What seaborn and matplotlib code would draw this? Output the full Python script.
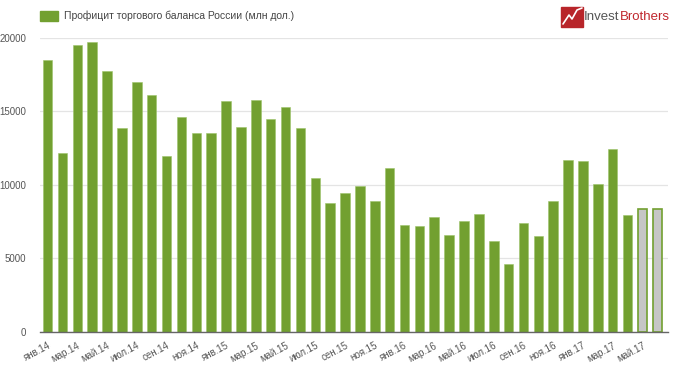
import numpy as np
import pandas as pd
import seaborn as sns
import matplotlib.pyplot as plt
from matplotlib.patches import Rectangle

# профицит торгового баланса, млн долл., янв.14 - июн.17
months = ["янв", "фев", "мар", "апр", "май", "июн",
          "июл", "авг", "сен", "окт", "ноя", "дек"]
years = ["14", "15", "16", "17"]
values = [18500, 12200, 19550, 19750, 17750, 13850, 17000, 16100, 11950, 14650, 13550, 13550,
          15700, 13950, 15800, 14500, 15300, 13850, 10500, 8750, 9450, 9950, 8900, 11150,
          7250, 7200, 7800, 6600, 7550, 8000, 6200, 4600, 7400, 6500, 8900, 11700,
          11650, 10100, 12450, 7950, 8350, 8350]
kind = ["факт"] * 40 + ["оценка"] * 2

labels = [f"{months[i % 12]}.{years[i // 12]}" for i in range(len(values))]
df = pd.DataFrame({"month": labels, "value": values, "kind": kind})

green = "#72a030"
grey = "#c6c6c6"

sns.set_theme(style="white")
plt.rcParams["font.family"] = ["Liberation Sans", "DejaVu Sans"]

fig = plt.figure(figsize=(6.8, 3.72), dpi=100)
ax = fig.add_axes([0.059, 0.1075, 0.923, 0.7905])

sns.barplot(data=df, x="month", y="value", hue="kind", dodge=False,
            palette={"факт": green, "оценка": grey}, width=0.64,
            legend=False, ax=ax, saturation=1)
for p in ax.patches:
    if p.get_facecolor()[:3] == plt.matplotlib.colors.to_rgb(grey):
        p.set_edgecolor(green)
        p.set_linewidth(1.2)
    else:
        p.set_edgecolor("#9cc46a")
        p.set_linewidth(0.4)

ax.set_ylim(0, 20000)
ax.set_xlim(-0.5, len(values) - 0.3)
ax.set_yticks([0, 5000, 10000, 15000, 20000])
ax.yaxis.grid(True, color="#e4e4e4", linewidth=0.9)
ax.set_axisbelow(True)
for s in ["top", "right", "left"]:
    ax.spines[s].set_visible(False)
ax.spines["bottom"].set_color("#666666")
ax.spines["bottom"].set_linewidth(1.0)

ticks = list(range(0, len(values), 2))
ax.set_xticks(ticks)
ax.set_xticklabels([labels[i] for i in ticks], rotation=28, ha="right",
                   rotation_mode="anchor", fontsize=7, color="#555555")
ax.tick_params(axis="x", length=0, pad=6)
ax.tick_params(axis="y", length=0, pad=10, labelsize=7, labelcolor="#555555")
ax.set_xlabel("")
ax.set_ylabel("")

# легенда
fig.patches.append(Rectangle((40 / 680, 1 - 21 / 372), 18 / 680, 10 / 372,
                             transform=fig.transFigure, color=green))
fig.text(64 / 680, 1 - 16 / 372, "Профицит торгового баланса России (млн дол.)",
         fontsize=7.5, color="#444444", va="center")

# логотип
fig.patches.append(Rectangle((561 / 680, 1 - 27 / 372), 22 / 680, 20 / 372,
                             transform=fig.transFigure, color="#b8252a"))
fig.lines.append(plt.Line2D(np.array([563, 569, 572, 577, 582]) / 680,
                            1 - np.array([24, 15, 19, 10, 8]) / 372,
                            transform=fig.transFigure, color="white", lw=1.2))
t1 = fig.text(584 / 680, 1 - 17 / 372, "Invest", fontsize=9.5, color="#555555", va="center")
fig.canvas.draw()
bb = t1.get_window_extent()
fig.text(bb.x1 / 680 + 0.5 / 680, 1 - 17 / 372, "Brothers", fontsize=9.5,
         color="#c0272d", va="center")

fig.savefig("out.png", dpi=100)
